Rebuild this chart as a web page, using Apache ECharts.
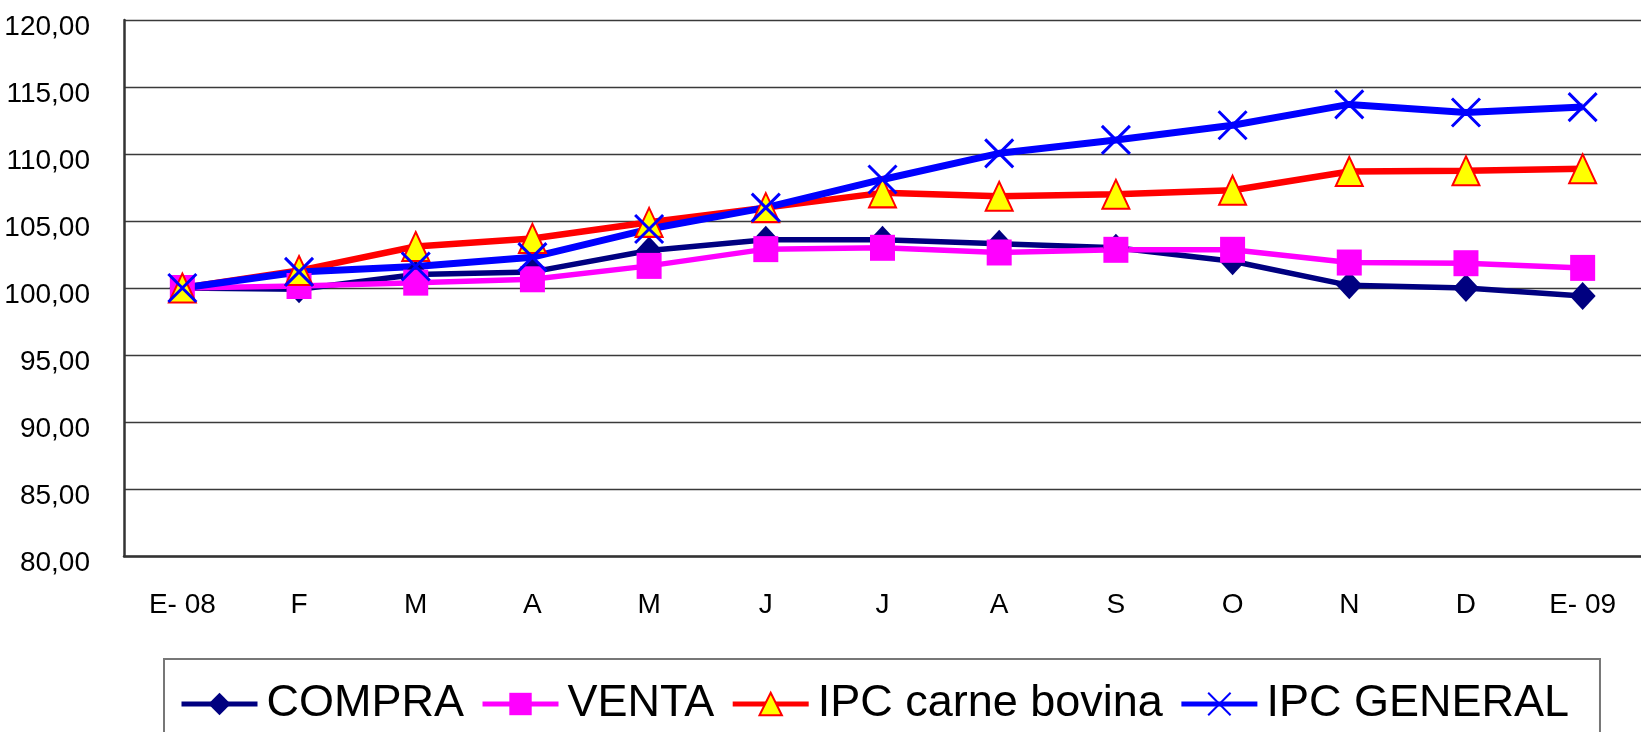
<!DOCTYPE html>
<html>
<head>
<meta charset="utf-8">
<script src="https://cdn.jsdelivr.net/npm/echarts@6/dist/echarts.min.js"></script>
<style>
  html, body { margin: 0; padding: 0; background: #fff; }
  #chart { width: 1641px; height: 732px; }
</style>
</head>
<body>
<div id="chart"></div>
<script>
// months Jan 2008 -> Jan 2009
const months = ['E- 08', 'F', 'M', 'A', 'M', 'J', 'J', 'A', 'S', 'O', 'N', 'D', 'E- 09'];
const seriesNames = ['COMPRA', 'VENTA', 'IPC carne bovina', 'IPC GENERAL'];
const compra = [100, 99.9, 101.0, 101.2, 102.8, 103.6, 103.6, 103.3, 103.0, 102.0, 100.2, 100.0, 99.4];
const venta = [100, 100.15, 100.4, 100.65, 101.65, 102.9, 103.0, 102.65, 102.85, 102.85, 101.9, 101.85, 101.5];
const ipcCarne = [100, 101.3, 103.1, 103.7, 104.9, 106.0, 107.1, 106.85, 107.0, 107.3, 108.7, 108.75, 108.9];
const ipcGeneral = [100, 101.2, 101.6, 102.3, 104.4, 106.0, 108.1, 110.05, 111.05, 112.15, 113.7, 113.1, 113.5];
const yMin = 80, yMax = 120, yStep = 5;

const font = "'Liberation Sans', Arial, sans-serif";

var myChart = echarts.init(document.getElementById('chart'));

const option = {
  backgroundColor: '#fff',
  animation: false,
  grid: {
    left: 124,
    right: -6,
    top: 20,
    bottom: 176
  },
  legend: {
    left: 164,
    top: 659,
    data: seriesNames,
    itemWidth: 76,
    itemHeight: 28,
    itemGap: 16,
    padding: [14, 31, 14, 15],
    borderColor: '#777',
    borderWidth: 2,
    lineStyle: { width: 5 },
    textStyle: {
      fontFamily: font,
      fontSize: 45,
      color: '#000',
      lineHeight: 62,
      padding: [0, 0, 0, 4]
    }
  },
  xAxis: {
    type: 'category',
    data: months,
    boundaryGap: true,
    axisLine: { lineStyle: { color: '#333', width: 2.5 } },
    axisTick: { inside: true, length: 12, lineStyle: { color: '#555', width: 1.5 } },
    axisLabel: {
      margin: 35,
      fontFamily: font,
      fontSize: 28,
      color: '#000'
    },
    splitLine: { show: false }
  },
  yAxis: {
    type: 'value',
    min: yMin,
    max: yMax,
    interval: yStep,
    axisLine: { show: true, lineStyle: { color: '#333', width: 2.5 } },
    axisTick: { show: false },
    axisLabel: {
      margin: 34,
      fontFamily: font,
      fontSize: 28,
      color: '#000',
      verticalAlign: 'top',
      lineHeight: 14,
      formatter: v => v.toFixed(2).replace('.', ',')
    },
    splitLine: { lineStyle: { color: '#3a3a3a', width: 1.3 } }
  },
  series: [
    {
      name: 'COMPRA',
      type: 'line',
      data: compra,
      symbol: 'diamond',
      symbolSize: [26, 28],
      lineStyle: { color: '#000080', width: 5.5 },
      itemStyle: { color: '#000080' }
    },
    {
      name: 'VENTA',
      type: 'line',
      data: venta,
      symbol: 'rect',
      symbolSize: [25, 26],
      lineStyle: { color: '#ff00ff', width: 5.5 },
      itemStyle: { color: '#ff00ff' }
    },
    {
      name: 'IPC carne bovina',
      type: 'line',
      data: ipcCarne,
      symbol: 'triangle',
      symbolSize: [27, 29],
      lineStyle: { color: '#ff0000', width: 6.5 },
      itemStyle: { color: '#ffff00', borderColor: '#ff0000', borderWidth: 2 }
    },
    {
      name: 'IPC GENERAL',
      type: 'line',
      data: ipcGeneral,
      symbol: 'path://M0,0L10,10M10,0L0,10',
      symbolSize: [28, 28],
      lineStyle: { color: '#0000ff', width: 7 },
      itemStyle: { color: '#0000ff', borderColor: '#0000ff', borderWidth: 3 }
    }
  ]
};

option && myChart.setOption(option);
</script>
</body>
</html>
